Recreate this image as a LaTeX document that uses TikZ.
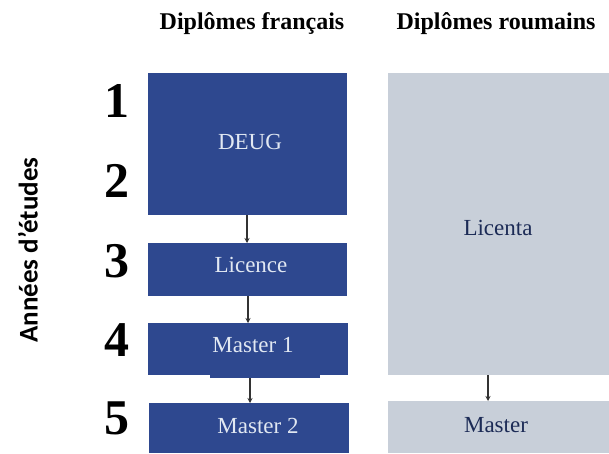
\documentclass[tikz,border=0pt]{standalone}
\usepackage{fontspec}
\setmainfont{Liberation Serif}
\newfontfamily\carlito{Carlito}
\usetikzlibrary{arrows.meta}
\definecolor{dblue}{RGB}{46,72,143}
\definecolor{lgray}{RGB}{200,207,217}
\definecolor{ltext}{RGB}{225,232,242}
\begin{document}
\begin{tikzpicture}[x=1pt,y=-1pt,
  fbox/.style={draw=none,fill=dblue},
  rbox/.style={draw=none,fill=lgray},
  ftext/.style={text=ltext,font=\fontsize{23}{26}\selectfont},
  rtext/.style={text=dblue!60!black,font=\fontsize{23}{26}\selectfont},
  yearnum/.style={font=\bfseries\fontsize{50}{54}\selectfont},
  hdr/.style={font=\bfseries\fontsize{24}{28}\selectfont},
  arr/.style={draw=black!80,line width=1.2pt,-{Stealth[length=5pt,width=5pt]}}]
\useasboundingbox (0,0) rectangle (609,453);
\fill[white] (0,0) rectangle (609,453);
% French boxes
\path[fbox] (148,73) rectangle (347,215);
\node[ftext] (deug) at (250,142) {DEUG};
\coordinate (deugb) at (247,215);
\path[fbox] (148,243) rectangle (347,296);
\node[ftext] (lic) at (251,265) {Licence};
\coordinate (lict) at (247,243);
\coordinate (licb) at (248,296);
\path[fbox] (148,323) rectangle (348,375);
\path[fbox] (210,370) rectangle (320,378);
\node[ftext] (m1) at (253,345) {Master 1};
\coordinate (m1t) at (248,323);
\coordinate (m1b) at (250,378);
\path[fbox] (149,403) rectangle (349,453);
\node[ftext] (m2) at (258,426) {Master 2};
\coordinate (m2t) at (250,403);
% Romanian boxes
\path[rbox] (388,73) rectangle (609,375);
\node[rtext] (licenta) at (498,228) {Licenta};
\coordinate (licentab) at (488,375);
\path[rbox] (388,401) rectangle (609,453);
\node[rtext] (mr) at (496,425) {Master};
\coordinate (mrt) at (488,401);
% arrows
\draw[arr] (deugb) -- (lict);
\draw[arr] (licb) -- (m1t);
\draw[arr] (m1b) -- (m2t);
\draw[arr] (licentab) -- (mrt);
% headers
\node[hdr] (h1) at (252,24) {Diplômes français};
\node[hdr] (h2) at (496,24) {Diplômes roumains};
% year numbers
\node[yearnum] (y1) at (117,101) {1};
\node[yearnum] (y2) at (117,181) {2};
\node[yearnum] (y3) at (117,261) {3};
\node[yearnum] (y4) at (117,340) {4};
\node[yearnum] (y5) at (117,418) {5};
% side label
\node[font=\carlito\bfseries\fontsize{27}{30}\selectfont,rotate=90] (lab) at (28,250) {Années d’études};
\end{tikzpicture}
\end{document}
